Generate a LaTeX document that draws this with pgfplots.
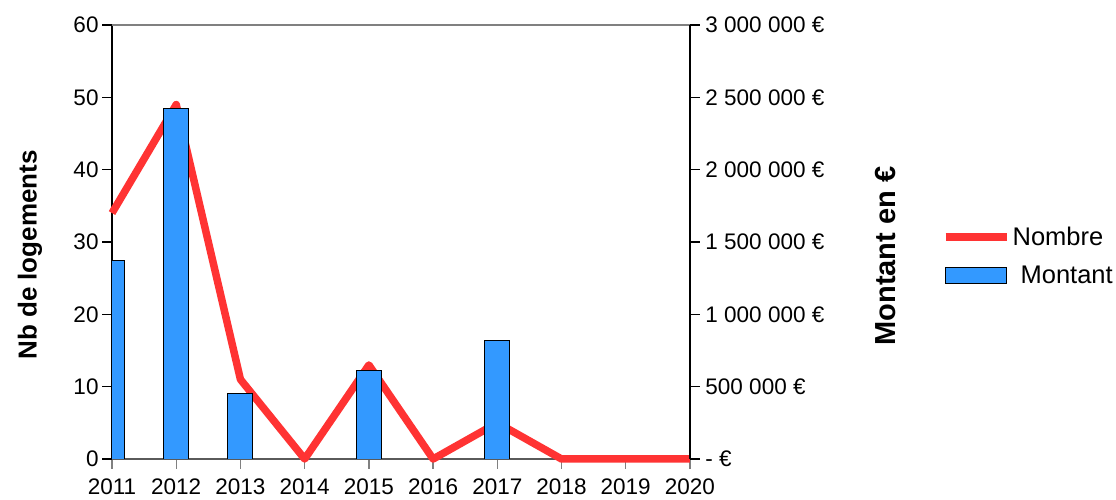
\documentclass[border=0pt]{standalone}
\usepackage{fontspec}
\setmainfont{Liberation Sans}
\usepackage{pgfplots}
\pgfplotsset{compat=1.18}
\definecolor{nbred}{HTML}{FF3333}
\definecolor{mtblue}{HTML}{3399FF}
\definecolor{axgray}{HTML}{808080}

\pgfplotsset{
  frame/.style={
    at={(112pt,41pt)}, anchor=south west,
    scale only axis, width=578pt, height=434pt,
    xmin=2011, xmax=2020,
    tick align=outside, major tick length=10pt,
    /pgf/number format/assume math mode=true,
    tick label style={font=\fontsize{22.5}{26}\selectfont},
  }
}

\begin{document}
\begin{tikzpicture}
\useasboundingbox (0,0) rectangle (1116pt,500pt);

% number of dwellings (left axis)
\begin{axis}[frame,
  ymin=0, ymax=60,
  axis x line*=bottom, axis y line*=left,
  xtick={2011,...,2020},
  xticklabels={2011,2012,2013,2014,2015,2016,2017,2018,2019,2020},
  xticklabel style={yshift=-6pt},
  ytick={0,10,...,60},
  x axis line style={draw=axgray!70!black, line width=1.3pt},
  y axis line style={draw=black, line width=1.3pt},
  xtick style={draw=axgray, line width=1.3pt},
  ytick style={draw=black, line width=1.3pt},
  clip=false,
]
\addplot[nbred, line width=7.5pt, line join=round] coordinates {
  (2011,34) (2012,49) (2013,11) (2014,0) (2015,13)
  (2016,0) (2017,5) (2018,0) (2019,0) (2020,0)};
\end{axis}

% amounts in euros (right axis)
\begin{axis}[frame,
  ymin=0, ymax=3000000,
  axis x line*=top, axis y line*=right,
  xtick=\empty,
  ytick={0,500000,1000000,1500000,2000000,2500000,3000000},
  yticklabels={- €,500 000 €,1 000 000 €,1 500 000 €,2 000 000 €,2 500 000 €,3 000 000 €},
  scaled y ticks=false,
  yticklabel style={anchor=west, xshift=2pt},
  x axis line style={draw=axgray, line width=2pt},
  y axis line style={draw=black, line width=1.3pt},
  ytick style={draw=black, line width=1.3pt},
  legend style={at={(axis description cs:1.435,0.54)}, anchor=north west,
    draw=none, fill=none, inner sep=0pt,
    font=\fontsize{25.5}{30}\selectfont, row sep=15pt},
  legend cell align=left,
]
\addlegendimage{legend image code/.code={\draw[nbred, line width=8pt] (0pt,0pt) -- (61pt,0pt);}}
\addlegendentry{Nombre}
\addplot[ybar, bar width=25pt, fill=mtblue, draw=black, line width=0.9pt,
  legend image code/.code={\draw[fill=mtblue, draw=black, line width=0.9pt] (0pt,-8pt) rectangle (61pt,8pt);}]
  coordinates {(2011,1370000) (2012,2425000) (2013,455000) (2015,610000) (2017,822000)};
\addlegendentry{\hspace{8pt}Montant}
\end{axis}

\node[rotate=90, font=\fontsize{26}{30}\selectfont\bfseries] at (30pt,245pt) {Nb de logements};
\node[rotate=90, font=\fontsize{29}{32}\selectfont\bfseries] at (886pt,244pt) {Montant en €};
\end{tikzpicture}
\end{document}
